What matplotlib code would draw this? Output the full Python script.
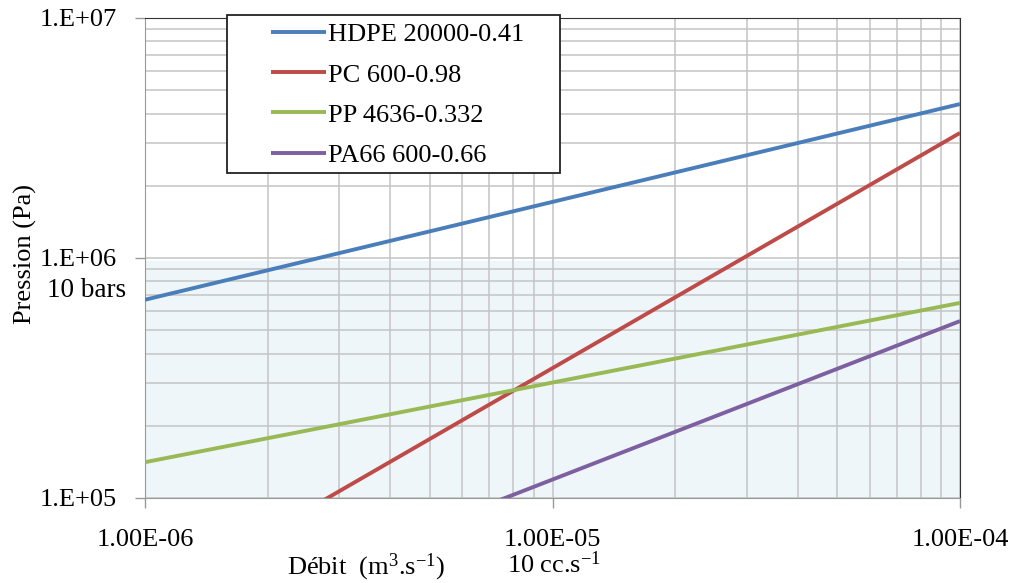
import numpy as np
import matplotlib.pyplot as plt
from matplotlib.patches import Rectangle
from matplotlib.ticker import LogLocator, FixedLocator, NullFormatter

plt.rcParams["font.family"] = ["Liberation Serif", "DejaVu Serif"]
plt.rcParams["mathtext.fontset"] = "custom"
plt.rcParams["mathtext.rm"] = "Liberation Serif"
plt.rcParams["mathtext.it"] = "Liberation Serif:italic"

# flow rate (m3/s) at the two ends of each power-law line
debit = [1e-6, 1e-4]
series = ["HDPE 20000-0.41", "PC 600-0.98", "PP 4636-0.332", "PA66 600-0.66"]
pression = [
    [6.7e5, 4.38e6],
    [3.64e4, 3.32e6],
    [1.41e5, 6.5e5],
    [2.61e4, 5.46e5],
]
colors = ["#4A7EBB", "#BE4B48", "#98B954", "#7D60A0"]

x_ticks = [1e-6, 1e-5, 1e-4]
x_ticklabels = ["1.00E-06", "1.00E-05", "1.00E-04"]
y_ticks = [1e5, 1e6, 1e7]
y_ticklabels = ["1.E+05", "1.E+06", "1.E+07"]
shade_top = 9.7e5

W, H = 1014, 583
fig = plt.figure(figsize=(W / 100, H / 100), dpi=100)
ax = fig.add_axes([145 / W, 1 - 498 / H, (960 - 145) / W, (498 - 18) / H])
ax.set_xscale("log")
ax.set_yscale("log")
ax.set_xlim(1e-6, 1e-4)
ax.set_ylim(1e5, 1e7)

ax.axhspan(1e5, shade_top, color="#EEF6FA", zorder=0)

handles = []
for name, ys, c in zip(series, pression, colors):
    h, = ax.plot(debit, ys, color=c, linewidth=2.8, label=name, zorder=3,
                 solid_capstyle="butt")
    handles.append(h)

ax.xaxis.set_major_locator(FixedLocator(x_ticks))
ax.xaxis.set_minor_locator(LogLocator(base=10, subs=np.arange(2, 10)))
ax.yaxis.set_major_locator(FixedLocator(y_ticks))
ax.yaxis.set_minor_locator(LogLocator(base=10, subs=np.arange(2, 10)))
ax.xaxis.set_minor_formatter(NullFormatter())
ax.yaxis.set_minor_formatter(NullFormatter())
ax.set_xticklabels(x_ticklabels)
ax.set_yticklabels(y_ticklabels)
ax.tick_params(which="major", length=7, width=1, color="#999999",
               labelsize=19, direction="out")
ax.tick_params(axis="x", which="major", pad=15)
ax.tick_params(axis="y", which="major", pad=13)
ax.tick_params(which="minor", length=0)

ax.grid(True, which="both", color="#C4C4C4", linewidth=1.1, zorder=1)
ax.set_axisbelow(True)

for side in ["left", "bottom"]:
    ax.spines[side].set_color("#999999")
for side in ["top", "right"]:
    ax.spines[side].set_color("#333333")

fig.text(25 / W, 1 - 254 / H, "Pression (Pa)", rotation=90, fontsize=19,
         ha="center", va="center")
fig.text(366 / W, 1 - 567 / H, "Débit  (m$^{3}$.s$^{-1}$)", fontsize=19,
         ha="center", va="center")
fig.text(507 / W, 1 - 565 / H, "10 cc.s$^{-1}$", fontsize=19,
         ha="left", va="center")
fig.text(47 / W, 1 - 291 / H, "10 bars", fontsize=19.5, ha="left", va="center")

box = Rectangle((227 / W, 1 - 173 / H), (560 - 227) / W, (173 - 15) / H,
                transform=fig.transFigure, facecolor="white",
                edgecolor="#222222", linewidth=1.3, zorder=2)
fig.add_artist(box)
leg = fig.legend(handles=handles, loc="upper left",
                 bbox_to_anchor=(271 / W, 1 - 23 / H), frameon=False,
                 prop={"family": "Liberation Serif", "size": 19},
                 handlelength=2.1, handletextpad=0.05,
                 labelspacing=0.63, borderpad=0, borderaxespad=0)
leg.set_zorder(3)

fig.savefig("out.png", dpi=100)
